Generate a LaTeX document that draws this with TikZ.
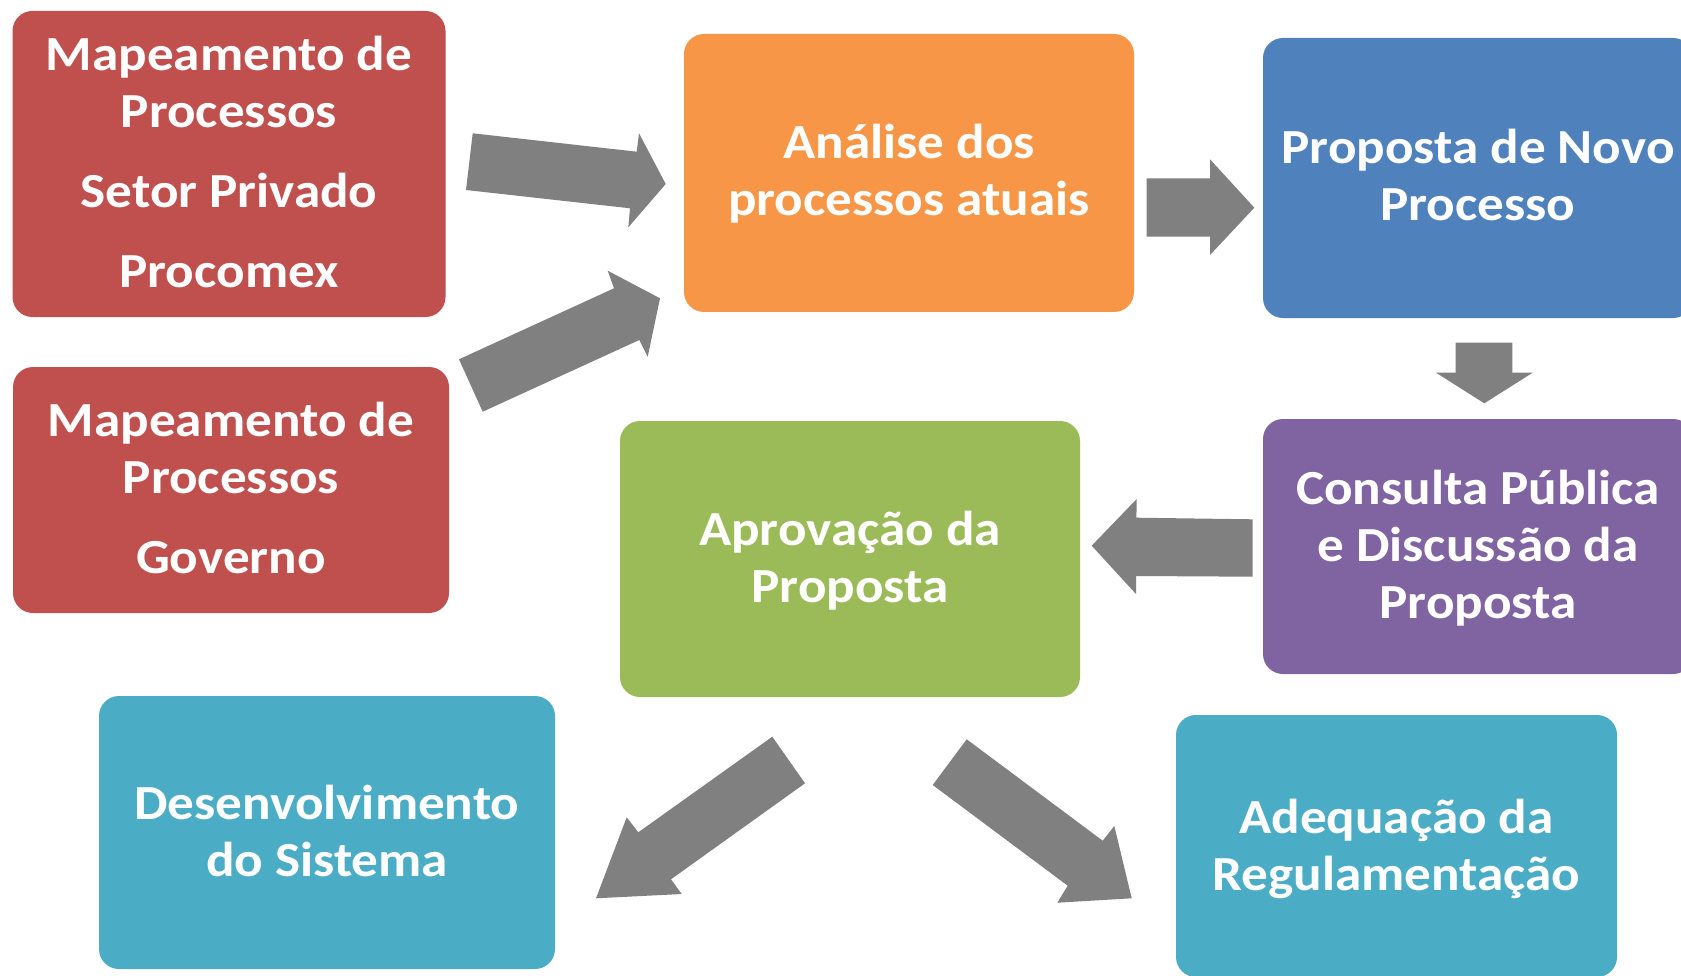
\documentclass[tikz,border=0pt]{standalone}
\usepackage{fontspec}
\setmainfont{Carlito}[FakeStretch=1.085]
\definecolor{cred}{HTML}{C0504D}
\definecolor{corange}{HTML}{F79646}
\definecolor{cblue}{HTML}{4F81BD}
\definecolor{cpurple}{HTML}{8064A2}
\definecolor{cgreen}{HTML}{9BBB59}
\definecolor{cteal}{HTML}{4BACC6}
\definecolor{cgray}{HTML}{808080}
\tikzset{
  box/.style={rounded corners=20pt, inner sep=0pt},
  txt/.style={inner sep=0pt, text=white, align=center,
    font=\fontsize{49}{57}\selectfont\bfseries},
  blockarrow/.style={fill=cgray, draw=none},
}
\begin{document}
\begin{tikzpicture}[x=1pt,y=-1pt]
\useasboundingbox (0,0) rectangle (1681,976);
\clip (0,0) rectangle (1681,976);
\fill[white] (0,0) rectangle (1681,976);
% boxes
\node[box, fill=cred, minimum width=433pt, minimum height=306pt,
  label={[txt, yshift=2pt]center:{Mapeamento de\\Processos\\[23pt]Setor Privado\\[23pt]Procomex}}]
  (r1) at (229,164) {};
\node[box, fill=cred, minimum width=436pt, minimum height=246pt,
  label={[txt, yshift=2pt]center:{Mapeamento de\\Processos\\[23pt]Governo}}]
  (r2) at (231,490) {};
\node[box, fill=corange, minimum width=450pt, minimum height=278pt,
  label={[txt, yshift=-1pt]center:{Análise dos\\processos atuais}}]
  (an) at (909,173) {};
\node[box, fill=cblue, minimum width=430pt, minimum height=280pt,
  label={[txt, yshift=3pt]center:{Proposta de Novo\\Processo}}]
  (pr) at (1478,178) {};
\node[box, fill=cpurple, minimum width=430pt, minimum height=255pt,
  label={[txt, yshift=-2pt]center:{Consulta Pública\\e Discussão da\\Proposta}}]
  (cp) at (1478,546.5) {};
\node[box, fill=cgreen, minimum width=460pt, minimum height=276pt,
  label={[txt, yshift=-2pt]center:{Aprovação da\\Proposta}}]
  (ap) at (850,559) {};
\node[box, fill=cteal, minimum width=456pt, minimum height=273pt,
  label={[txt, yshift=2pt]center:{Desenvolvimento\\do Sistema}}]
  (ds) at (327,832.5) {};
\node[box, fill=cteal, minimum width=441pt, minimum height=262pt,
  label={[txt, yshift=-3pt]center:{Adequação da\\Regulamentação}}]
  (ar) at (1396.5,846) {};
% block arrows
\fill[blockarrow] (472.7,133.3) -- (636.7,151.7) -- (639,133.3) -- (665.7,184)
  -- (628.3,227.3) -- (630,208.3) -- (466,190) -- cycle;
\fill[blockarrow] (459,359.3) -- (614,288.3) -- (607.7,270.7) -- (660,298.3)
  -- (647.7,356.7) -- (639.3,340) -- (482.7,411.7) -- cycle;
\fill[blockarrow] (1146.7,178.3) -- (1210,178.3) -- (1210,159.3) -- (1254.3,207.7)
  -- (1210,255) -- (1210,236.7) -- (1146.7,236.7) -- cycle;
\fill[blockarrow] (1455.7,342.7) -- (1512.3,342.7) -- (1512.3,372.7) -- (1532.7,372.7)
  -- (1484.3,403.3) -- (1436,372.7) -- (1455.7,372.7) -- cycle;
\fill[blockarrow] (1252.7,519.3) -- (1136.4,517.7) -- (1136.7,499) -- (1091.7,545.7)
  -- (1136,594) -- (1136,576) -- (1252.7,576.7) -- cycle;
\fill[blockarrow] (772.3,736.7) -- (805,783.3) -- (671,879.3) -- (681.7,894)
  -- (596,898.3) -- (626.7,817.3) -- (638.3,832.3) -- cycle;
\fill[blockarrow] (966.7,739.3) -- (1102.7,840.7) -- (1114.3,826) -- (1131.7,898.3)
  -- (1057.3,902.7) -- (1067.7,885.7) -- (932.7,785) -- cycle;
\end{tikzpicture}
\end{document}
